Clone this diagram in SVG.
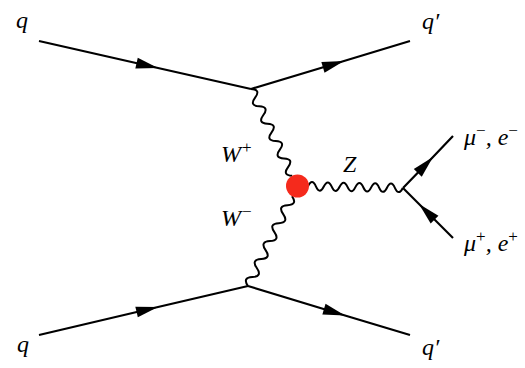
<svg xmlns="http://www.w3.org/2000/svg" width="525" height="368" viewBox="0 0 525 368">
<style>
.f{fill:none;stroke:#000;stroke-width:2.2;marker-mid:url(#arr)}
.w{fill:none;stroke:#000;stroke-width:2}
.t{font-family:"Liberation Serif","DejaVu Serif",serif;font-style:italic;fill:#000}
.q{font-size:24px}
.l{font-size:24px}
.s{font-family:"Liberation Serif","DejaVu Serif",serif;font-style:normal;font-size:17px}
</style>
<defs>
<marker id="arr" markerUnits="userSpaceOnUse" markerWidth="30" markerHeight="30" refX="0" refY="0" viewBox="-25 -12 30 24" orient="auto" overflow="visible">
<path d="M0,0 L-22,-5.5 L-22,5.5 Z" fill="#000"/>
</marker>
</defs>
<rect width="525" height="368" fill="#fff"/>
<g id="connectors">
<polyline class="f" points="39,41 158,68 251,89"/>
<polyline class="f" points="251,89 344,61 410,41"/>
<polyline class="f" points="39,335 158,307 248,286"/>
<polyline class="f" points="248,286 345,315.5 410,335"/>
<polyline class="f" points="403,188 433,157 453,136"/>
<polyline class="f" points="453,238 419,204 403,188"/>
<path class="w" transform="translate(251,89) rotate(64.6)" d="M0,0 c3.2,-6 6.4,-6 9.6,0 s6.4,6 9.6,0 s6.4,-6 9.6,0 s6.4,6 9.6,0 s6.4,-6 9.6,0 s6.4,6 9.6,0 s6.4,-6 9.6,0 s6.4,6 9.6,0 s6.4,-6 9.6,0 s6.4,6 9.6,0"/>
<path class="w" transform="translate(248,286) rotate(-63.9)" d="M0,0 c3.33,-6 6.67,-6 10,0 s6.67,6 10,0 s6.67,-6 10,0 s6.67,6 10,0 s6.67,-6 10,0 s6.67,6 10,0 s6.67,-6 10,0 s6.67,6 10,0 s6.67,-6 10,0 s6.67,6 10,0"/>
<path class="w" transform="translate(297,186) rotate(1.08)" d="M11,0 c2.63,-5.6 5.27,-5.6 7.9,0 s5.27,5.6 7.9,0 s5.27,-5.6 7.9,0 s5.27,5.6 7.9,0 s5.27,-5.6 7.9,0 s5.27,5.6 7.9,0 s5.27,-5.6 7.9,0 s5.27,5.6 7.9,0 s5.27,-5.6 7.9,0 s5.27,5.6 7.9,0 s5.27,-5.6 7.9,0 s5.27,5.6 7.9,0"/>
</g>
<g id="vertex-WWZ"><circle cx="297.5" cy="186" r="11.5" fill="#f52a1c"/></g>
<g id="q-in-top"><text class="t q" x="16" y="28">q</text></g>
<g id="q-out-top"><text class="t q" x="422" y="29">q′</text></g>
<g id="q-in-bottom"><text class="t q" x="17" y="352">q</text></g>
<g id="q-out-bottom"><text class="t q" x="422" y="355">q′</text></g>
<g id="W-plus"><text class="t l" x="221" y="162">W<tspan class="s" dx="1" dy="-9">+</tspan></text></g>
<g id="W-minus"><text class="t l" x="221" y="226">W<tspan class="s" dx="1" dy="-9">−</tspan></text></g>
<g id="Z"><text class="t l" x="343" y="172">Z</text></g>
<g id="lep-minus"><text class="t l" x="464" y="145">μ<tspan class="s" dy="-9">−</tspan><tspan dy="9">, e</tspan><tspan class="s" dy="-9">−</tspan></text></g>
<g id="lep-plus"><text class="t l" x="464" y="251">μ<tspan class="s" dy="-9">+</tspan><tspan dy="9">, e</tspan><tspan class="s" dy="-9">+</tspan></text></g>
</svg>
